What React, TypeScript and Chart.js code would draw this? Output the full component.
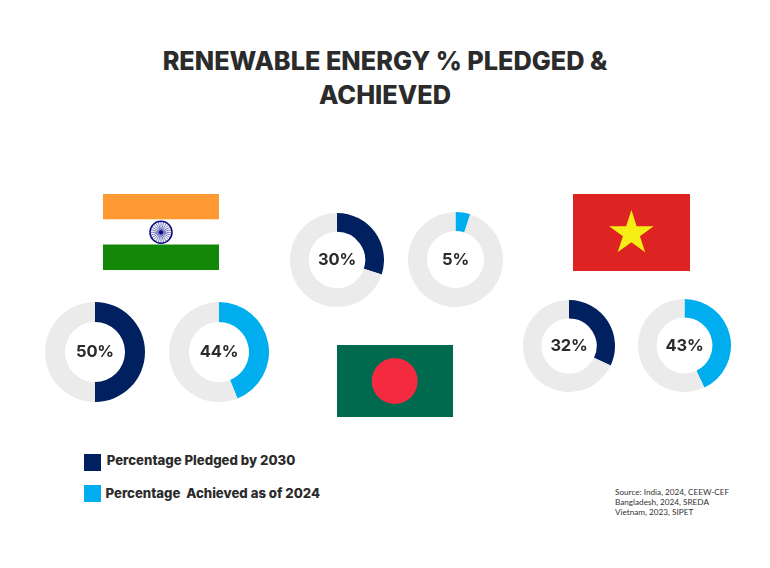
import React, { useEffect, useRef } from "react";
import { Chart, registerables } from "chart.js";

Chart.register(...registerables);

const titleLines = ["RENEWABLE ENERGY % PLEDGED &", "ACHIEVED"];
const countries = ["India", "Bangladesh", "Vietnam"];
const pledged = [50, 30, 32];
const achieved = [44, 5, 43];
const legendLabels = ["Percentage Pledged by 2030", "Percentage  Achieved as of 2024"];
const sourceLines = ["Source: India, 2024, CEEW-CEF", "Bangladesh, 2024, SREDA", "Vietnam, 2023, SIPET"];

const NAVY = "#002060";
const SKY = "#00AEEF";
const TRACK = "#EBEBEB";
const TEXT = "#2B2B2B";

const pledgedPos = [
  { cx: 95, cy: 351.5, d: 100 },
  { cx: 337, cy: 259.5, d: 94 },
  { cx: 569, cy: 345.5, d: 92 },
];
const achievedPos = [
  { cx: 219, cy: 351.5, d: 100 },
  { cx: 455.5, cy: 259.5, d: 95 },
  { cx: 684.5, cy: 345.5, d: 93 },
];

function Donut({ label, value, color, cx, cy, d }: { label: string; value: number; color: string; cx: number; cy: number; d: number }) {
  const ref = useRef<HTMLCanvasElement>(null);
  useEffect(() => {
    const chart = new Chart(ref.current!, {
      type: "doughnut",
      data: {
        labels: [label, "Remainder"],
        datasets: [{ data: [value, 100 - value], backgroundColor: [color, TRACK], borderWidth: 0 }],
      },
      options: {
        responsive: false,
        animation: false,
        cutout: "60%",
        rotation: 0,
        layout: { padding: 0 },
        plugins: { legend: { display: false }, tooltip: { enabled: false } },
      },
    });
    return () => chart.destroy();
  }, [label, value, color]);
  return (
    <>
      <canvas ref={ref} width={d} height={d} style={{ position: "absolute", left: cx - d / 2, top: cy - d / 2, width: d, height: d }} />
      <div
        style={{
          position: "absolute",
          left: cx - 40,
          top: cy - 11,
          width: 80,
          height: 24,
          lineHeight: "24px",
          textAlign: "center",
          font: "700 16.5px Inter",
          color: TEXT,
          letterSpacing: "-0.2px",
        }}
      >
        {value}%
      </div>
    </>
  );
}

function IndiaFlag() {
  const spokes = Array.from({ length: 24 }, (_, i) => {
    const a = (i * Math.PI) / 12;
    return <line key={i} x1={0} y1={0} x2={10.5 * Math.cos(a)} y2={10.5 * Math.sin(a)} stroke="#1E1E96" strokeWidth={0.6} />;
  });
  return (
    <svg style={{ position: "absolute", left: 103.3, top: 194 }} width={116} height={76} viewBox="0 0 116 76">
      <rect x={0} y={0} width={116} height={25.3} fill="#FF9933" />
      <rect x={0} y={50.5} width={116} height={25.5} fill="#138808" />
      <g transform="translate(58,38.3)">
        <circle r={11} fill="white" stroke="#0B0B80" strokeWidth={1.5} />
        {spokes}
        <circle r={2} fill="#0B0B80" />
      </g>
    </svg>
  );
}

function BangladeshFlag() {
  return (
    <svg style={{ position: "absolute", left: 337, top: 345.3 }} width={116} height={72} viewBox="0 0 116 72">
      <rect width={116} height={72} fill="#006A4E" />
      <circle cx={57.7} cy={36} r={23} fill="#F42A41" />
    </svg>
  );
}

function VietnamFlag() {
  const R = 23.4;
  const pts = Array.from({ length: 10 }, (_, i) => {
    const r = i % 2 === 0 ? R : R * 0.382;
    const a = -Math.PI / 2 + (i * Math.PI) / 5;
    return `${58.4 + r * Math.cos(a)},${39.4 + r * Math.sin(a)}`;
  }).join(" ");
  return (
    <svg style={{ position: "absolute", left: 573.3, top: 194 }} width={117} height={77} viewBox="0 0 117 77">
      <rect width={117} height={77} fill="#DE2323" />
      <polygon points={pts} fill="#F5EE14" />
    </svg>
  );
}

export default function App() {
  return (
    <div style={{ position: "absolute", left: 0, top: 0, width: 770, height: 568, background: "#fff", overflow: "hidden" }}>
      {titleLines.map((t, i) => (
        <div
          key={t}
          style={{
            position: "absolute",
            left: 0,
            width: 770,
            top: 45 + i * 34,
            height: 34,
            lineHeight: "34px",
            textAlign: "center",
            font: "800 25.3px Inter",
            color: TEXT,
          }}
        >
          {t}
        </div>
      ))}

      <IndiaFlag />
      <BangladeshFlag />
      <VietnamFlag />

      {countries.map((c, i) => (
        <React.Fragment key={c}>
          <Donut label={`${c} pledged`} value={pledged[i]} color={NAVY} {...pledgedPos[i]} />
          <Donut label={`${c} achieved`} value={achieved[i]} color={SKY} {...achievedPos[i]} />
        </React.Fragment>
      ))}

      <div style={{ position: "absolute", left: 84, top: 454, width: 17, height: 17, background: NAVY }} />
      <div style={{ position: "absolute", left: 84, top: 485, width: 17, height: 17, background: SKY }} />
      <div style={{ position: "absolute", left: 106.7, top: 452, height: 20, lineHeight: "20px", font: "800 13.2px Inter", color: TEXT, whiteSpace: "pre" }}>
        {legendLabels[0]}
      </div>
      <div style={{ position: "absolute", left: 105.5, top: 484.5, height: 20, lineHeight: "20px", font: "800 13.2px Inter", color: TEXT, whiteSpace: "pre" }}>
        {legendLabels[1]}
      </div>

      {sourceLines.map((s, i) => (
        <div
          key={s}
          style={{
            position: "absolute",
            left: 615,
            top: 486.5 + i * 10.3,
            height: 10,
            lineHeight: "10px",
            font: "400 8.2px Lato",
            color: "#333",
            whiteSpace: "pre",
          }}
        >
          {s}
        </div>
      ))}
    </div>
  );
}
